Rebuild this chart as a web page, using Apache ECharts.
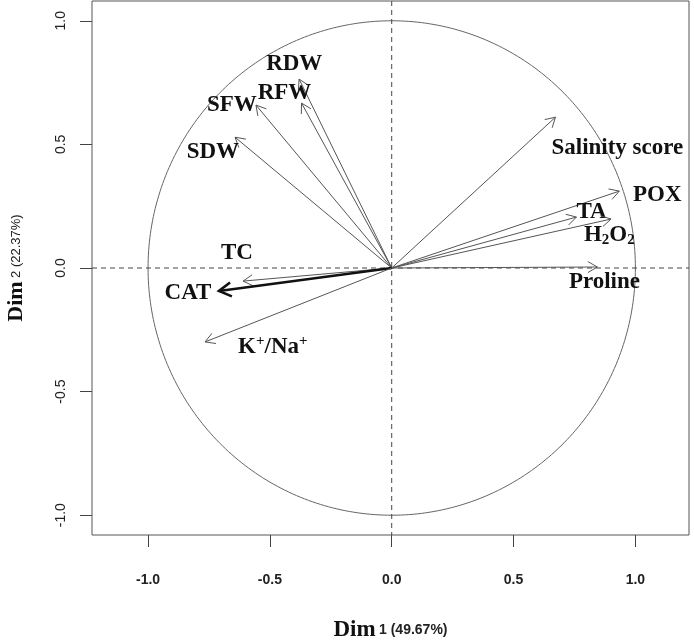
<!DOCTYPE html>
<html>
<head>
<meta charset="utf-8">
<script src="https://cdn.jsdelivr.net/npm/echarts@6/dist/echarts.min.js"></script>
<style>html,body{margin:0;padding:0;background:#fff}#c{width:694px;height:640px}</style>
</head>
<body>
<div id="c"></div>
<script>
// Variables (PCA loadings)
const varNames = ['RDW','RFW','SFW','SDW','Salinity score','POX','TA','H2O2','Proline','TC','CAT','K+/Na+'];
const dim1 = [-0.38,-0.37,-0.557,-0.643,0.672,0.934,0.758,0.90,0.844,-0.61,-0.709,-0.766];
const dim2 = [0.764,0.667,0.659,0.529,0.61,0.311,0.206,0.198,0.004,-0.053,-0.093,-0.299];
// label anchor points (data units)
const labelX = [-0.40,-0.44,-0.656,-0.734,0.926,1.09,0.82,0.893,0.873,-0.635,-0.836,-0.488];
const labelY = [0.824,0.707,0.659,0.469,0.485,0.295,0.226,0.133,-0.057,0.06,-0.10,-0.32];
const labelText = ['RDW','RFW','SFW','SDW','Salinity score','POX','TA','H{sub|2}O{sub|2}','Proline','TC','CAT','K{sup|+}/Na{sup|+}'];
const xTicks = [-1.0,-0.5,0.0,0.5,1.0];
const yTicks = [-1.0,-0.5,0.0,0.5,1.0];
const xTitle = ['Dim', '1 (49.67%)'];
const yTitle = ['Dim', '2 (22.37%)'];

const chart = echarts.init(document.getElementById('c'));
const serif = 'Liberation Serif, Times New Roman, serif';
const sans = 'Liberation Sans, Arial, sans-serif';

const arrowData = varNames.map((n,i)=>[dim1[i], dim2[i], labelX[i], labelY[i], i]);

function arrowItem(params, api) {
  const i = api.value(4);
  const p0 = api.coord([0,0]);
  const p1 = api.coord([api.value(0), api.value(1)]);
  const isCat = varNames[i] === 'CAT';
  const lw = isCat ? 2.6 : 1;
  const col = isCat ? '#111' : '#555';
  const L = isCat ? 14 : 11;
  const ang = Math.atan2(p1[1]-p0[1], p1[0]-p0[0]);
  const a = Math.PI/6;
  const h1 = [p1[0]-L*Math.cos(ang-a), p1[1]-L*Math.sin(ang-a)];
  const h2 = [p1[0]-L*Math.cos(ang+a), p1[1]-L*Math.sin(ang+a)];
  const lp = api.coord([api.value(2), api.value(3)]);
  return {
    type: 'group',
    children: [
      {type:'line', shape:{x1:p0[0],y1:p0[1],x2:p1[0],y2:p1[1]}, style:{stroke:col, lineWidth:lw}},
      {type:'polyline', shape:{points:[h1,p1,h2]}, style:{stroke:col, lineWidth:lw, fill:null}},
      {type:'text', x: lp[0], y: lp[1], style:{
        text: labelText[i], fill:'#111',
        fontFamily: serif, fontWeight:'bold', fontSize:23,
        align:'center', verticalAlign:'middle',
        rich: {
          sub: {fontSize: 15, fontFamily: serif, fontWeight:'bold', verticalAlign:'bottom', lineHeight: 26},
          sup: {fontSize: 15, fontFamily: serif, fontWeight:'bold', verticalAlign:'top', lineHeight: 26}
        }
      }}
    ]
  };
}

function frameItem(params, api) {
  const cs = params.coordSys;
  const c = api.coord([0,0]);
  const pts = [];
  for (let k=0;k<=360;k++){
    const t = k*Math.PI/180;
    pts.push(api.coord([Math.cos(t), Math.sin(t)]));
  }
  return {
    type:'group',
    children:[
      {type:'polyline', shape:{points:pts}, style:{stroke:'#666', lineWidth:1, fill:null}},
      {type:'line', shape:{x1:cs.x,y1:c[1],x2:cs.x+cs.width,y2:c[1]}, style:{stroke:'#444', lineWidth:1, lineDash:[5,4]}},
      {type:'line', shape:{x1:c[0],y1:cs.y,x2:c[0],y2:cs.y+cs.height}, style:{stroke:'#444', lineWidth:1, lineDash:[5,4]}}
    ]
  };
}

chart.setOption({
  animation:false,
  backgroundColor:'#fff',
  grid:{left:92, top:1, width:597, height:534, show:true, borderColor:'#555', borderWidth:1, containLabel:false, outerBoundsMode:'none'},
  xAxis:{
    type:'value', min:-1.23, max:1.22,
    splitLine:{show:false},
    axisLine:{show:false, onZero:false},
    axisTick:{show:true, length:12, customValues:xTicks, lineStyle:{color:'#444'}},
    axisLabel:{customValues:xTicks, formatter:v=>v.toFixed(1), margin:38, fontSize:14, fontWeight:'bold', color:'#222', fontFamily:sans},
    name: '{a|'+xTitle[0]+'} {b|'+xTitle[1]+'}',
    nameLocation:'middle', nameGap:84,
    nameTextStyle:{rich:{a:{fontFamily:serif, fontWeight:'bold', fontSize:23, color:'#111'}, b:{fontFamily:sans, fontWeight:'bold', fontSize:14, color:'#222'}}}
  },
  yAxis:{
    type:'value', min:-1.08, max:1.08,
    splitLine:{show:false},
    axisLine:{show:false, onZero:false},
    axisTick:{show:true, length:12, customValues:yTicks, lineStyle:{color:'#444'}},
    axisLabel:{customValues:yTicks, formatter:v=>v.toFixed(1), rotate:90, margin:24, fontSize:14, color:'#222', fontFamily:sans},
    name: '{a|'+yTitle[0]+'} {b|'+yTitle[1]+'}',
    nameLocation:'middle', nameGap:65,
    nameTextStyle:{rich:{a:{fontFamily:serif, fontWeight:'bold', fontSize:22, color:'#111'}, b:{fontFamily:sans, fontSize:13, color:'#222'}}}
  },
  series:[
    {type:'custom', renderItem:frameItem, data:[[0,0]], silent:true, z:1},
    {type:'custom', renderItem:arrowItem, data:arrowData, silent:true, z:2, clip:false}
  ]
});
</script>
</body>
</html>
